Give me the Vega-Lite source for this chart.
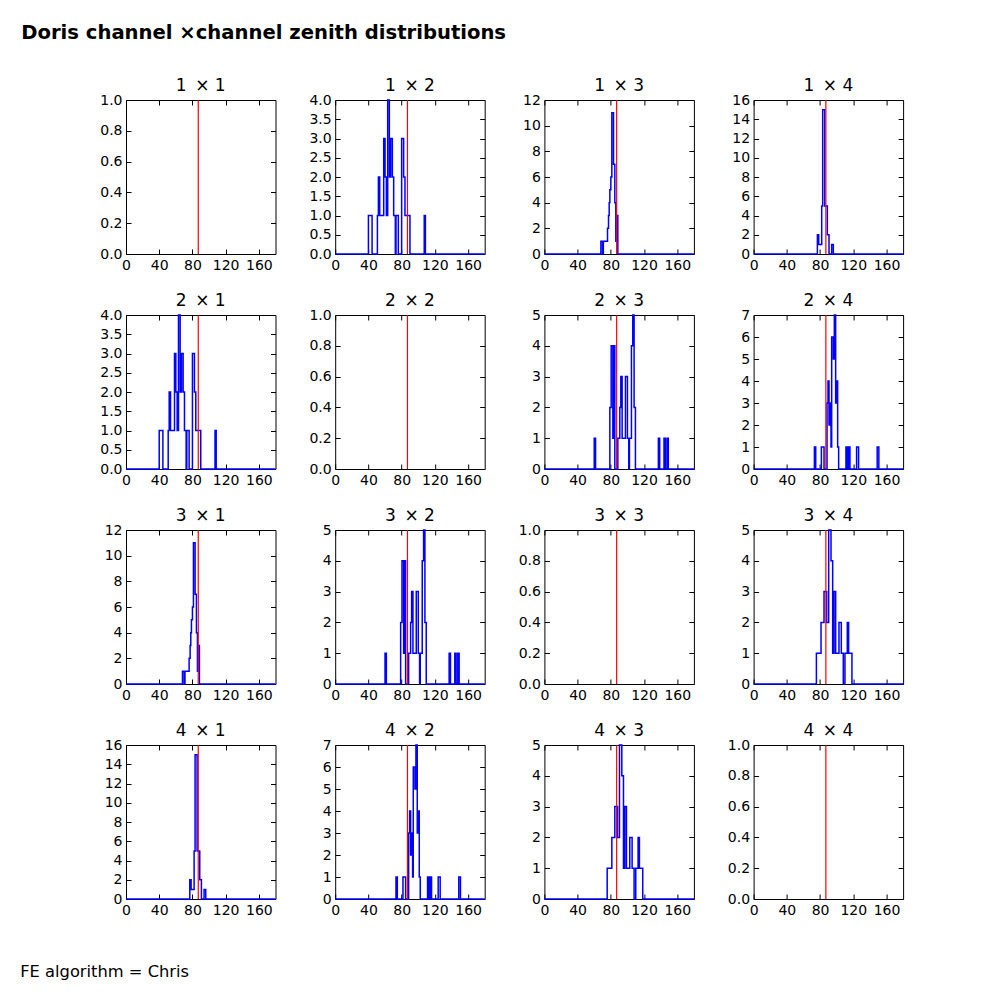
{
  "$schema": "https://vega.github.io/schema/vega-lite/v6.json",
  "background": "white",
  "padding": {"left": 20, "top": 22, "right": 5, "bottom": 5},
  "title": {"text": "Doris channel ×channel zenith distributions", "anchor": "start", "frame": "bounds", "dx": 1, "offset": 33, "font": "DejaVu Sans", "fontSize": 19.6, "fontWeight": "bold", "color": "black"},
  "datasets": {
    "hist": [
      {"p":"A","x":0,"n":0},{"p":"A","x":40,"n":1},{"p":"A","x":44.4,"n":0},{"p":"A","x":50.8,"n":1},{"p":"A","x":52,"n":2},{"p":"A","x":53.6,"n":1},{"p":"A","x":58.4,"n":3},{"p":"A","x":60,"n":2},{"p":"A","x":61.6,"n":1},{"p":"A","x":63.2,"n":4},{"p":"A","x":65.2,"n":2},{"p":"A","x":66.8,"n":3},{"p":"A","x":68.8,"n":2},{"p":"A","x":70.4,"n":1},{"p":"A","x":72.4,"n":0},{"p":"A","x":73.2,"n":1},{"p":"A","x":76,"n":0},{"p":"A","x":80,"n":3},{"p":"A","x":82.4,"n":2},{"p":"A","x":84,"n":1},{"p":"A","x":90,"n":0},{"p":"A","x":107.2,"n":1},{"p":"A","x":108.6,"n":0},{"p":"A","x":180,"n":0},
      {"p":"B","x":0,"n":0},{"p":"B","x":68,"n":1},{"p":"B","x":70,"n":0},{"p":"B","x":71,"n":1},{"p":"B","x":76,"n":2},{"p":"B","x":77.2,"n":3},{"p":"B","x":78,"n":4},{"p":"B","x":78.8,"n":5},{"p":"B","x":80,"n":6},{"p":"B","x":81.2,"n":11},{"p":"B","x":83.2,"n":7},{"p":"B","x":84.8,"n":4},{"p":"B","x":86,"n":1},{"p":"B","x":87.2,"n":3},{"p":"B","x":88.4,"n":0},{"p":"B","x":180,"n":0},
      {"p":"C","x":0,"n":0},{"p":"C","x":76.8,"n":2},{"p":"C","x":78.4,"n":1},{"p":"C","x":82,"n":5},{"p":"C","x":83.2,"n":15},{"p":"C","x":85.6,"n":5},{"p":"C","x":88.8,"n":2},{"p":"C","x":90.8,"n":0},{"p":"C","x":94,"n":1},{"p":"C","x":96,"n":0},{"p":"C","x":180,"n":0},
      {"p":"D","x":0,"n":0},{"p":"D","x":60,"n":1},{"p":"D","x":61.6,"n":0},{"p":"D","x":78.8,"n":2},{"p":"D","x":80.4,"n":4},{"p":"D","x":82.4,"n":1},{"p":"D","x":83.4,"n":4},{"p":"D","x":84.8,"n":0},{"p":"D","x":88.4,"n":1},{"p":"D","x":90.8,"n":2},{"p":"D","x":92,"n":3},{"p":"D","x":93.6,"n":1},{"p":"D","x":97.6,"n":3},{"p":"D","x":100,"n":1},{"p":"D","x":101.6,"n":0},{"p":"D","x":102.4,"n":1},{"p":"D","x":104.8,"n":4},{"p":"D","x":106.4,"n":5},{"p":"D","x":108,"n":2},{"p":"D","x":109.6,"n":0},{"p":"D","x":137.2,"n":1},{"p":"D","x":138.8,"n":0},{"p":"D","x":144,"n":1},{"p":"D","x":145.6,"n":0},{"p":"D","x":147.6,"n":1},{"p":"D","x":149.2,"n":0},{"p":"D","x":180,"n":0},
      {"p":"E","x":0,"n":0},{"p":"E","x":73.2,"n":1},{"p":"E","x":74.8,"n":0},{"p":"E","x":81.6,"n":1},{"p":"E","x":84.8,"n":0},{"p":"E","x":88.4,"n":3},{"p":"E","x":89.6,"n":4},{"p":"E","x":90.8,"n":2},{"p":"E","x":92,"n":3},{"p":"E","x":93.2,"n":1},{"p":"E","x":94,"n":6},{"p":"E","x":96,"n":5},{"p":"E","x":97.2,"n":7},{"p":"E","x":98.8,"n":3},{"p":"E","x":100,"n":4},{"p":"E","x":101.2,"n":1},{"p":"E","x":102.4,"n":0},{"p":"E","x":111.2,"n":1},{"p":"E","x":112.8,"n":0},{"p":"E","x":114.4,"n":1},{"p":"E","x":116,"n":0},{"p":"E","x":124,"n":1},{"p":"E","x":126.4,"n":0},{"p":"E","x":148.8,"n":1},{"p":"E","x":150.8,"n":0},{"p":"E","x":180,"n":0},
      {"p":"F","x":0,"n":0},{"p":"F","x":75.6,"n":1},{"p":"F","x":81.2,"n":2},{"p":"F","x":84.8,"n":3},{"p":"F","x":88,"n":2},{"p":"F","x":90.4,"n":5},{"p":"F","x":93.2,"n":4},{"p":"F","x":95.2,"n":1},{"p":"F","x":96.8,"n":3},{"p":"F","x":98.8,"n":1},{"p":"F","x":102.8,"n":2},{"p":"F","x":105.6,"n":1},{"p":"F","x":108,"n":0},{"p":"F","x":110,"n":1},{"p":"F","x":112.8,"n":2},{"p":"F","x":114.4,"n":1},{"p":"F","x":118.4,"n":0},{"p":"F","x":180,"n":0}
    ],
    "ref": [{"x": 87}]
  },
  "vconcat": [
    {
      "title": {"text": "FE algorithm = Chris", "orient": "bottom", "anchor": "start", "frame": "bounds", "dx": -79, "offset": 46, "font": "DejaVu Sans", "fontSize": 16.3, "fontWeight": "normal", "color": "black"},
      "spacing": 18,
      "vconcat": [
        {"spacing": 59.2, "bounds": "flush", "hconcat": [
          {"title": "1\u2002× 1", "width": 149.5, "height": 154, "resolve": {"axis": {"x": "independent", "y": "independent"}}, "layer": [
            {"data": {"name": "hist"}, "transform": [{"filter": "datum.p == 'Z'"}], "mark": {"type": "line", "interpolate": "step-after", "color": "#0000ff", "strokeWidth": 1.5},
             "encoding": {"x": {"field": "x", "type": "quantitative", "title": null, "scale": {"domain": [0, 180], "nice": false}, "axis": {"orient": "bottom", "values": [0, 40, 80, 120, 160], "format": "d"}},
                          "y": {"field": "n", "type": "quantitative", "title": null, "scale": {"domain": [0, 1], "nice": false}, "axis": {"orient": "left", "values": [0, 0.2, 0.4, 0.6, 0.8, 1], "format": ".1f"}}}},
            {"data": {"name": "ref"}, "mark": {"type": "rule", "color": "#ff0000", "strokeWidth": 1.2},
             "encoding": {"x": {"field": "x", "type": "quantitative", "title": null, "axis": {"orient": "top", "labels": false, "values": [0, 40, 80, 120, 160]}},
                          "y": {"datum": 0, "type": "quantitative", "title": null, "axis": {"orient": "right", "labels": false, "values": [0, 0.2, 0.4, 0.6, 0.8, 1]}}, "y2": {"datum": 1}}}
          ]},
          {"title": "1\u2002× 2", "width": 149.5, "height": 154, "resolve": {"axis": {"x": "independent", "y": "independent"}}, "layer": [
            {"data": {"name": "hist"}, "transform": [{"filter": "datum.p == 'A'"}], "mark": {"type": "line", "interpolate": "step-after", "color": "#0000ff", "strokeWidth": 1.5},
             "encoding": {"x": {"field": "x", "type": "quantitative", "title": null, "scale": {"domain": [0, 180], "nice": false}, "axis": {"orient": "bottom", "values": [0, 40, 80, 120, 160], "format": "d"}},
                          "y": {"field": "n", "type": "quantitative", "title": null, "scale": {"domain": [0, 4], "nice": false}, "axis": {"orient": "left", "values": [0, 0.5, 1, 1.5, 2, 2.5, 3, 3.5, 4], "format": ".1f"}}}},
            {"data": {"name": "ref"}, "mark": {"type": "rule", "color": "#ff0000", "strokeWidth": 1.2},
             "encoding": {"x": {"field": "x", "type": "quantitative", "title": null, "axis": {"orient": "top", "labels": false, "values": [0, 40, 80, 120, 160]}},
                          "y": {"datum": 0, "type": "quantitative", "title": null, "axis": {"orient": "right", "labels": false, "values": [0, 0.5, 1, 1.5, 2, 2.5, 3, 3.5, 4]}}, "y2": {"datum": 4}}}
          ]},
          {"title": "1\u2002× 3", "width": 149.5, "height": 154, "resolve": {"axis": {"x": "independent", "y": "independent"}}, "layer": [
            {"data": {"name": "hist"}, "transform": [{"filter": "datum.p == 'B'"}], "mark": {"type": "line", "interpolate": "step-after", "color": "#0000ff", "strokeWidth": 1.5},
             "encoding": {"x": {"field": "x", "type": "quantitative", "title": null, "scale": {"domain": [0, 180], "nice": false}, "axis": {"orient": "bottom", "values": [0, 40, 80, 120, 160], "format": "d"}},
                          "y": {"field": "n", "type": "quantitative", "title": null, "scale": {"domain": [0, 12], "nice": false}, "axis": {"orient": "left", "values": [0, 2, 4, 6, 8, 10, 12], "format": "d"}}}},
            {"data": {"name": "ref"}, "mark": {"type": "rule", "color": "#ff0000", "strokeWidth": 1.2},
             "encoding": {"x": {"field": "x", "type": "quantitative", "title": null, "axis": {"orient": "top", "labels": false, "values": [0, 40, 80, 120, 160]}},
                          "y": {"datum": 0, "type": "quantitative", "title": null, "axis": {"orient": "right", "labels": false, "values": [0, 2, 4, 6, 8, 10, 12]}}, "y2": {"datum": 12}}}
          ]},
          {"title": "1\u2002× 4", "width": 149.5, "height": 154, "resolve": {"axis": {"x": "independent", "y": "independent"}}, "layer": [
            {"data": {"name": "hist"}, "transform": [{"filter": "datum.p == 'C'"}], "mark": {"type": "line", "interpolate": "step-after", "color": "#0000ff", "strokeWidth": 1.5},
             "encoding": {"x": {"field": "x", "type": "quantitative", "title": null, "scale": {"domain": [0, 180], "nice": false}, "axis": {"orient": "bottom", "values": [0, 40, 80, 120, 160], "format": "d"}},
                          "y": {"field": "n", "type": "quantitative", "title": null, "scale": {"domain": [0, 16], "nice": false}, "axis": {"orient": "left", "values": [0, 2, 4, 6, 8, 10, 12, 14, 16], "format": "d"}}}},
            {"data": {"name": "ref"}, "mark": {"type": "rule", "color": "#ff0000", "strokeWidth": 1.2},
             "encoding": {"x": {"field": "x", "type": "quantitative", "title": null, "axis": {"orient": "top", "labels": false, "values": [0, 40, 80, 120, 160]}},
                          "y": {"datum": 0, "type": "quantitative", "title": null, "axis": {"orient": "right", "labels": false, "values": [0, 2, 4, 6, 8, 10, 12, 14, 16]}}, "y2": {"datum": 16}}}
          ]}
        ]},
        {"spacing": 59.2, "bounds": "flush", "hconcat": [
          {"title": "2\u2002× 1", "width": 149.5, "height": 154, "resolve": {"axis": {"x": "independent", "y": "independent"}}, "layer": [
            {"data": {"name": "hist"}, "transform": [{"filter": "datum.p == 'A'"}], "mark": {"type": "line", "interpolate": "step-after", "color": "#0000ff", "strokeWidth": 1.5},
             "encoding": {"x": {"field": "x", "type": "quantitative", "title": null, "scale": {"domain": [0, 180], "nice": false}, "axis": {"orient": "bottom", "values": [0, 40, 80, 120, 160], "format": "d"}},
                          "y": {"field": "n", "type": "quantitative", "title": null, "scale": {"domain": [0, 4], "nice": false}, "axis": {"orient": "left", "values": [0, 0.5, 1, 1.5, 2, 2.5, 3, 3.5, 4], "format": ".1f"}}}},
            {"data": {"name": "ref"}, "mark": {"type": "rule", "color": "#ff0000", "strokeWidth": 1.2},
             "encoding": {"x": {"field": "x", "type": "quantitative", "title": null, "axis": {"orient": "top", "labels": false, "values": [0, 40, 80, 120, 160]}},
                          "y": {"datum": 0, "type": "quantitative", "title": null, "axis": {"orient": "right", "labels": false, "values": [0, 0.5, 1, 1.5, 2, 2.5, 3, 3.5, 4]}}, "y2": {"datum": 4}}}
          ]},
          {"title": "2\u2002× 2", "width": 149.5, "height": 154, "resolve": {"axis": {"x": "independent", "y": "independent"}}, "layer": [
            {"data": {"name": "hist"}, "transform": [{"filter": "datum.p == 'Z'"}], "mark": {"type": "line", "interpolate": "step-after", "color": "#0000ff", "strokeWidth": 1.5},
             "encoding": {"x": {"field": "x", "type": "quantitative", "title": null, "scale": {"domain": [0, 180], "nice": false}, "axis": {"orient": "bottom", "values": [0, 40, 80, 120, 160], "format": "d"}},
                          "y": {"field": "n", "type": "quantitative", "title": null, "scale": {"domain": [0, 1], "nice": false}, "axis": {"orient": "left", "values": [0, 0.2, 0.4, 0.6, 0.8, 1], "format": ".1f"}}}},
            {"data": {"name": "ref"}, "mark": {"type": "rule", "color": "#ff0000", "strokeWidth": 1.2},
             "encoding": {"x": {"field": "x", "type": "quantitative", "title": null, "axis": {"orient": "top", "labels": false, "values": [0, 40, 80, 120, 160]}},
                          "y": {"datum": 0, "type": "quantitative", "title": null, "axis": {"orient": "right", "labels": false, "values": [0, 0.2, 0.4, 0.6, 0.8, 1]}}, "y2": {"datum": 1}}}
          ]},
          {"title": "2\u2002× 3", "width": 149.5, "height": 154, "resolve": {"axis": {"x": "independent", "y": "independent"}}, "layer": [
            {"data": {"name": "hist"}, "transform": [{"filter": "datum.p == 'D'"}], "mark": {"type": "line", "interpolate": "step-after", "color": "#0000ff", "strokeWidth": 1.5},
             "encoding": {"x": {"field": "x", "type": "quantitative", "title": null, "scale": {"domain": [0, 180], "nice": false}, "axis": {"orient": "bottom", "values": [0, 40, 80, 120, 160], "format": "d"}},
                          "y": {"field": "n", "type": "quantitative", "title": null, "scale": {"domain": [0, 5], "nice": false}, "axis": {"orient": "left", "values": [0, 1, 2, 3, 4, 5], "format": "d"}}}},
            {"data": {"name": "ref"}, "mark": {"type": "rule", "color": "#ff0000", "strokeWidth": 1.2},
             "encoding": {"x": {"field": "x", "type": "quantitative", "title": null, "axis": {"orient": "top", "labels": false, "values": [0, 40, 80, 120, 160]}},
                          "y": {"datum": 0, "type": "quantitative", "title": null, "axis": {"orient": "right", "labels": false, "values": [0, 1, 2, 3, 4, 5]}}, "y2": {"datum": 5}}}
          ]},
          {"title": "2\u2002× 4", "width": 149.5, "height": 154, "resolve": {"axis": {"x": "independent", "y": "independent"}}, "layer": [
            {"data": {"name": "hist"}, "transform": [{"filter": "datum.p == 'E'"}], "mark": {"type": "line", "interpolate": "step-after", "color": "#0000ff", "strokeWidth": 1.5},
             "encoding": {"x": {"field": "x", "type": "quantitative", "title": null, "scale": {"domain": [0, 180], "nice": false}, "axis": {"orient": "bottom", "values": [0, 40, 80, 120, 160], "format": "d"}},
                          "y": {"field": "n", "type": "quantitative", "title": null, "scale": {"domain": [0, 7], "nice": false}, "axis": {"orient": "left", "values": [0, 1, 2, 3, 4, 5, 6, 7], "format": "d"}}}},
            {"data": {"name": "ref"}, "mark": {"type": "rule", "color": "#ff0000", "strokeWidth": 1.2},
             "encoding": {"x": {"field": "x", "type": "quantitative", "title": null, "axis": {"orient": "top", "labels": false, "values": [0, 40, 80, 120, 160]}},
                          "y": {"datum": 0, "type": "quantitative", "title": null, "axis": {"orient": "right", "labels": false, "values": [0, 1, 2, 3, 4, 5, 6, 7]}}, "y2": {"datum": 7}}}
          ]}
        ]},
        {"spacing": 59.2, "bounds": "flush", "hconcat": [
          {"title": "3\u2002× 1", "width": 149.5, "height": 154, "resolve": {"axis": {"x": "independent", "y": "independent"}}, "layer": [
            {"data": {"name": "hist"}, "transform": [{"filter": "datum.p == 'B'"}], "mark": {"type": "line", "interpolate": "step-after", "color": "#0000ff", "strokeWidth": 1.5},
             "encoding": {"x": {"field": "x", "type": "quantitative", "title": null, "scale": {"domain": [0, 180], "nice": false}, "axis": {"orient": "bottom", "values": [0, 40, 80, 120, 160], "format": "d"}},
                          "y": {"field": "n", "type": "quantitative", "title": null, "scale": {"domain": [0, 12], "nice": false}, "axis": {"orient": "left", "values": [0, 2, 4, 6, 8, 10, 12], "format": "d"}}}},
            {"data": {"name": "ref"}, "mark": {"type": "rule", "color": "#ff0000", "strokeWidth": 1.2},
             "encoding": {"x": {"field": "x", "type": "quantitative", "title": null, "axis": {"orient": "top", "labels": false, "values": [0, 40, 80, 120, 160]}},
                          "y": {"datum": 0, "type": "quantitative", "title": null, "axis": {"orient": "right", "labels": false, "values": [0, 2, 4, 6, 8, 10, 12]}}, "y2": {"datum": 12}}}
          ]},
          {"title": "3\u2002× 2", "width": 149.5, "height": 154, "resolve": {"axis": {"x": "independent", "y": "independent"}}, "layer": [
            {"data": {"name": "hist"}, "transform": [{"filter": "datum.p == 'D'"}], "mark": {"type": "line", "interpolate": "step-after", "color": "#0000ff", "strokeWidth": 1.5},
             "encoding": {"x": {"field": "x", "type": "quantitative", "title": null, "scale": {"domain": [0, 180], "nice": false}, "axis": {"orient": "bottom", "values": [0, 40, 80, 120, 160], "format": "d"}},
                          "y": {"field": "n", "type": "quantitative", "title": null, "scale": {"domain": [0, 5], "nice": false}, "axis": {"orient": "left", "values": [0, 1, 2, 3, 4, 5], "format": "d"}}}},
            {"data": {"name": "ref"}, "mark": {"type": "rule", "color": "#ff0000", "strokeWidth": 1.2},
             "encoding": {"x": {"field": "x", "type": "quantitative", "title": null, "axis": {"orient": "top", "labels": false, "values": [0, 40, 80, 120, 160]}},
                          "y": {"datum": 0, "type": "quantitative", "title": null, "axis": {"orient": "right", "labels": false, "values": [0, 1, 2, 3, 4, 5]}}, "y2": {"datum": 5}}}
          ]},
          {"title": "3\u2002× 3", "width": 149.5, "height": 154, "resolve": {"axis": {"x": "independent", "y": "independent"}}, "layer": [
            {"data": {"name": "hist"}, "transform": [{"filter": "datum.p == 'Z'"}], "mark": {"type": "line", "interpolate": "step-after", "color": "#0000ff", "strokeWidth": 1.5},
             "encoding": {"x": {"field": "x", "type": "quantitative", "title": null, "scale": {"domain": [0, 180], "nice": false}, "axis": {"orient": "bottom", "values": [0, 40, 80, 120, 160], "format": "d"}},
                          "y": {"field": "n", "type": "quantitative", "title": null, "scale": {"domain": [0, 1], "nice": false}, "axis": {"orient": "left", "values": [0, 0.2, 0.4, 0.6, 0.8, 1], "format": ".1f"}}}},
            {"data": {"name": "ref"}, "mark": {"type": "rule", "color": "#ff0000", "strokeWidth": 1.2},
             "encoding": {"x": {"field": "x", "type": "quantitative", "title": null, "axis": {"orient": "top", "labels": false, "values": [0, 40, 80, 120, 160]}},
                          "y": {"datum": 0, "type": "quantitative", "title": null, "axis": {"orient": "right", "labels": false, "values": [0, 0.2, 0.4, 0.6, 0.8, 1]}}, "y2": {"datum": 1}}}
          ]},
          {"title": "3\u2002× 4", "width": 149.5, "height": 154, "resolve": {"axis": {"x": "independent", "y": "independent"}}, "layer": [
            {"data": {"name": "hist"}, "transform": [{"filter": "datum.p == 'F'"}], "mark": {"type": "line", "interpolate": "step-after", "color": "#0000ff", "strokeWidth": 1.5},
             "encoding": {"x": {"field": "x", "type": "quantitative", "title": null, "scale": {"domain": [0, 180], "nice": false}, "axis": {"orient": "bottom", "values": [0, 40, 80, 120, 160], "format": "d"}},
                          "y": {"field": "n", "type": "quantitative", "title": null, "scale": {"domain": [0, 5], "nice": false}, "axis": {"orient": "left", "values": [0, 1, 2, 3, 4, 5], "format": "d"}}}},
            {"data": {"name": "ref"}, "mark": {"type": "rule", "color": "#ff0000", "strokeWidth": 1.2},
             "encoding": {"x": {"field": "x", "type": "quantitative", "title": null, "axis": {"orient": "top", "labels": false, "values": [0, 40, 80, 120, 160]}},
                          "y": {"datum": 0, "type": "quantitative", "title": null, "axis": {"orient": "right", "labels": false, "values": [0, 1, 2, 3, 4, 5]}}, "y2": {"datum": 5}}}
          ]}
        ]},
        {"spacing": 59.2, "bounds": "flush", "hconcat": [
          {"title": "4\u2002× 1", "width": 149.5, "height": 154, "resolve": {"axis": {"x": "independent", "y": "independent"}}, "layer": [
            {"data": {"name": "hist"}, "transform": [{"filter": "datum.p == 'C'"}], "mark": {"type": "line", "interpolate": "step-after", "color": "#0000ff", "strokeWidth": 1.5},
             "encoding": {"x": {"field": "x", "type": "quantitative", "title": null, "scale": {"domain": [0, 180], "nice": false}, "axis": {"orient": "bottom", "values": [0, 40, 80, 120, 160], "format": "d"}},
                          "y": {"field": "n", "type": "quantitative", "title": null, "scale": {"domain": [0, 16], "nice": false}, "axis": {"orient": "left", "values": [0, 2, 4, 6, 8, 10, 12, 14, 16], "format": "d"}}}},
            {"data": {"name": "ref"}, "mark": {"type": "rule", "color": "#ff0000", "strokeWidth": 1.2},
             "encoding": {"x": {"field": "x", "type": "quantitative", "title": null, "axis": {"orient": "top", "labels": false, "values": [0, 40, 80, 120, 160]}},
                          "y": {"datum": 0, "type": "quantitative", "title": null, "axis": {"orient": "right", "labels": false, "values": [0, 2, 4, 6, 8, 10, 12, 14, 16]}}, "y2": {"datum": 16}}}
          ]},
          {"title": "4\u2002× 2", "width": 149.5, "height": 154, "resolve": {"axis": {"x": "independent", "y": "independent"}}, "layer": [
            {"data": {"name": "hist"}, "transform": [{"filter": "datum.p == 'E'"}], "mark": {"type": "line", "interpolate": "step-after", "color": "#0000ff", "strokeWidth": 1.5},
             "encoding": {"x": {"field": "x", "type": "quantitative", "title": null, "scale": {"domain": [0, 180], "nice": false}, "axis": {"orient": "bottom", "values": [0, 40, 80, 120, 160], "format": "d"}},
                          "y": {"field": "n", "type": "quantitative", "title": null, "scale": {"domain": [0, 7], "nice": false}, "axis": {"orient": "left", "values": [0, 1, 2, 3, 4, 5, 6, 7], "format": "d"}}}},
            {"data": {"name": "ref"}, "mark": {"type": "rule", "color": "#ff0000", "strokeWidth": 1.2},
             "encoding": {"x": {"field": "x", "type": "quantitative", "title": null, "axis": {"orient": "top", "labels": false, "values": [0, 40, 80, 120, 160]}},
                          "y": {"datum": 0, "type": "quantitative", "title": null, "axis": {"orient": "right", "labels": false, "values": [0, 1, 2, 3, 4, 5, 6, 7]}}, "y2": {"datum": 7}}}
          ]},
          {"title": "4\u2002× 3", "width": 149.5, "height": 154, "resolve": {"axis": {"x": "independent", "y": "independent"}}, "layer": [
            {"data": {"name": "hist"}, "transform": [{"filter": "datum.p == 'F'"}], "mark": {"type": "line", "interpolate": "step-after", "color": "#0000ff", "strokeWidth": 1.5},
             "encoding": {"x": {"field": "x", "type": "quantitative", "title": null, "scale": {"domain": [0, 180], "nice": false}, "axis": {"orient": "bottom", "values": [0, 40, 80, 120, 160], "format": "d"}},
                          "y": {"field": "n", "type": "quantitative", "title": null, "scale": {"domain": [0, 5], "nice": false}, "axis": {"orient": "left", "values": [0, 1, 2, 3, 4, 5], "format": "d"}}}},
            {"data": {"name": "ref"}, "mark": {"type": "rule", "color": "#ff0000", "strokeWidth": 1.2},
             "encoding": {"x": {"field": "x", "type": "quantitative", "title": null, "axis": {"orient": "top", "labels": false, "values": [0, 40, 80, 120, 160]}},
                          "y": {"datum": 0, "type": "quantitative", "title": null, "axis": {"orient": "right", "labels": false, "values": [0, 1, 2, 3, 4, 5]}}, "y2": {"datum": 5}}}
          ]},
          {"title": "4\u2002× 4", "width": 149.5, "height": 154, "resolve": {"axis": {"x": "independent", "y": "independent"}}, "layer": [
            {"data": {"name": "hist"}, "transform": [{"filter": "datum.p == 'Z'"}], "mark": {"type": "line", "interpolate": "step-after", "color": "#0000ff", "strokeWidth": 1.5},
             "encoding": {"x": {"field": "x", "type": "quantitative", "title": null, "scale": {"domain": [0, 180], "nice": false}, "axis": {"orient": "bottom", "values": [0, 40, 80, 120, 160], "format": "d"}},
                          "y": {"field": "n", "type": "quantitative", "title": null, "scale": {"domain": [0, 1], "nice": false}, "axis": {"orient": "left", "values": [0, 0.2, 0.4, 0.6, 0.8, 1], "format": ".1f"}}}},
            {"data": {"name": "ref"}, "mark": {"type": "rule", "color": "#ff0000", "strokeWidth": 1.2},
             "encoding": {"x": {"field": "x", "type": "quantitative", "title": null, "axis": {"orient": "top", "labels": false, "values": [0, 40, 80, 120, 160]}},
                          "y": {"datum": 0, "type": "quantitative", "title": null, "axis": {"orient": "right", "labels": false, "values": [0, 0.2, 0.4, 0.6, 0.8, 1]}}, "y2": {"datum": 1}}}
          ]}
        ]}
      ]
    }
  ],
  "config": {
    "view": {"stroke": "black", "strokeWidth": 1},
    "axis": {"domain": false, "grid": false, "tickColor": "black", "tickSize": -5, "labelPadding": 9, "labelFont": "DejaVu Sans", "labelFontSize": 14, "labelColor": "black", "labelFlush": false, "labelOverlap": false},
    "title": {"font": "DejaVu Sans", "fontSize": 17, "fontWeight": "normal", "color": "black", "offset": -2}
  }
}
